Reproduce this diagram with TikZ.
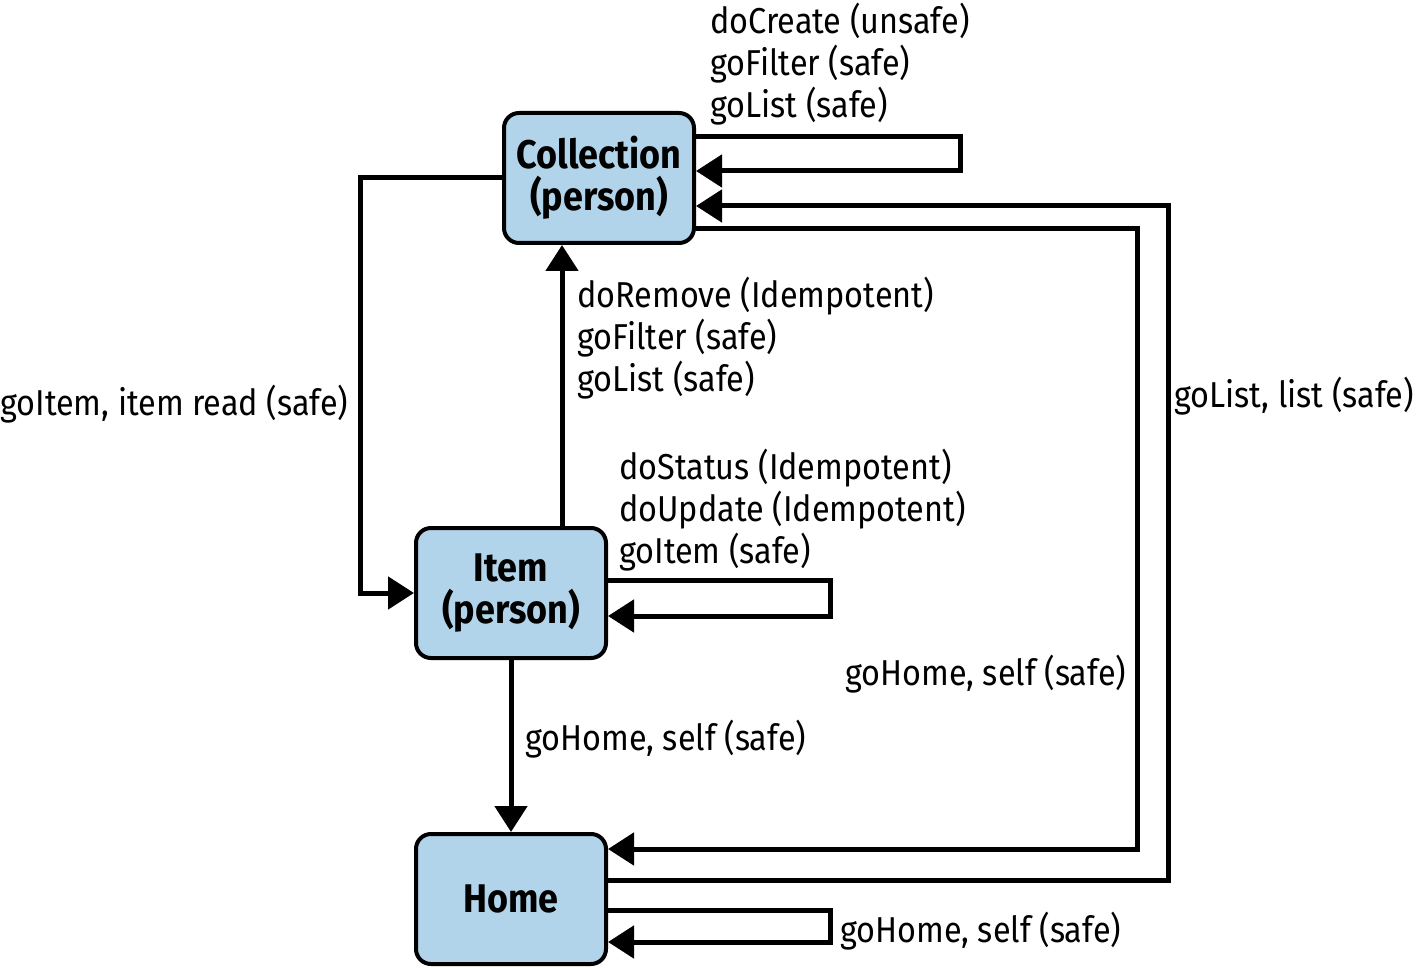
\documentclass[tikz,border=0pt]{standalone}
\usepackage{fontspec}
\setmainfont{Fira Sans}[FakeStretch=0.9]
\usetikzlibrary{arrows.meta,calc}
\definecolor{nodeblue}{RGB}{178,212,234}
\begin{document}
\begin{tikzpicture}[x=1pt,y=-1pt,
 box/.style={draw=black, line width=4pt, fill=nodeblue, rounded corners=15pt, minimum width=190pt, minimum height=130pt, align=center, font=\fontsize{40}{42}\selectfont\bfseries, inner sep=0pt},
 conn/.style={line width=5pt, -{Triangle[length=26pt,width=32pt]}},
 lbl/.style={font=\fontsize{36}{42}\selectfont, align=left, inner sep=0pt, anchor=north west}]
\useasboundingbox (0,0) rectangle (1416,968);
\node[box] (coll) at (599,178) {Collection\\(person)};
\node[box] (item) at (511,593) {Item\\(person)};
\node[box] (home) at (511,899) {Home};

\node[lbl] (l1) at (710,3) {doCreate (unsafe)\\goFilter (safe)\\goList (safe)};
\node[lbl] (l2) at (577,277) {doRemove (Idempotent)\\goFilter (safe)\\goList (safe)};
\node[lbl] (l3) at (0,385) {goItem, item read (safe)};
\node[lbl] (l4) at (619,449) {doStatus (Idempotent)\\doUpdate (Idempotent)\\goItem (safe)};
\node[lbl] (l5) at (525,720) {goHome, self (safe)};
\node[lbl] (l6) at (845,655) {goHome, self (safe)};
\node[lbl] (l7) at (1174,377) {goList, list (safe)};
\node[lbl] (l8) at (840,912) {goHome, self (safe)};

\coordinate (k1) at (960,150);
\coordinate (k2) at (360,400);
\coordinate (k3) at (830,600);
\coordinate (k4) at (1137,500);
\coordinate (k5) at (1168,500);
\coordinate (k6) at (830,925);

\draw[conn] ($(coll.east)+(0,-41)$) -| (k1) |- ($(coll.east)+(0,-7)$);
\draw[conn] (coll.west) -| (k2) |- (item.west);
\draw[conn] ($(item.north)+(51,0)$) -- ($(coll.south)+(-37,0)$);
\draw[conn] ($(item.east)+(0,-13)$) -| (k3) |- ($(item.east)+(0,23)$);
\draw[conn] (item.south) -- (home.north);
\draw[conn] ($(coll.east)+(0,51)$) -| (k4) |- ($(home.east)+(0,-50)$);
\draw[conn] ($(home.east)+(0,-19)$) -| (k5) |- ($(coll.east)+(0,28)$);
\draw[conn] ($(home.east)+(0,11)$) -| (k6) |- ($(home.east)+(0,43)$);
\end{tikzpicture}
\end{document}
